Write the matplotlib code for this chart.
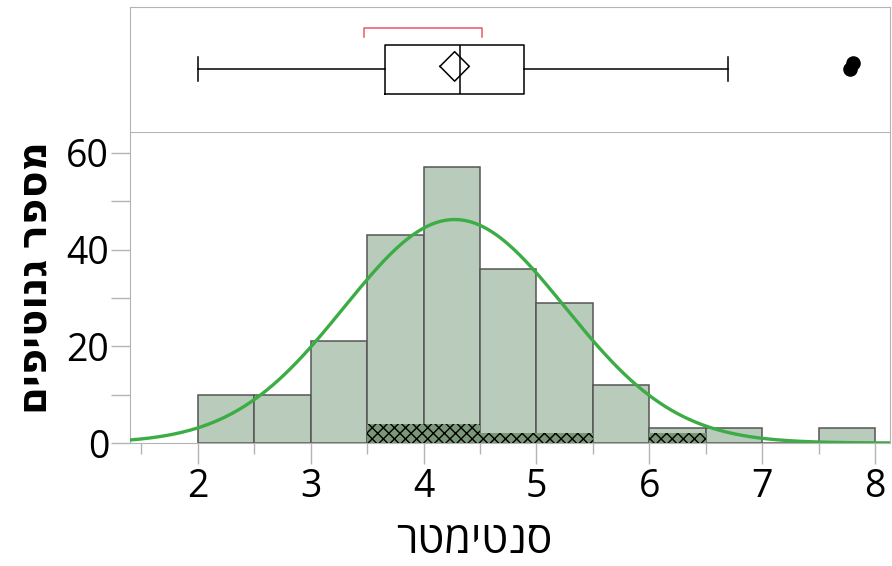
import numpy as np
import matplotlib.pyplot as plt
from matplotlib.ticker import MultipleLocator

plt.rcParams['font.family'] = ['Open Sans', 'DejaVu Sans']
plt.rcParams['hatch.linewidth'] = 1.0

# histogram of heights (cm), bin width 0.5
bin_edges = [2.0, 2.5, 3.0, 3.5, 4.0, 4.5, 5.0, 5.5, 6.0, 6.5, 7.0, 7.5, 8.0]
counts = [10, 10, 21, 43, 57, 36, 29, 12, 3, 3, 0, 3]
# highlighted (selected) rows in each bin
selected = [0, 0, 0, 4, 4, 2, 2, 0, 2, 0, 0, 0]

# fitted normal curve
fit_mean = 4.275
fit_sd = 0.98

# outlier box plot summary
q1, median, q3 = 3.66, 4.32, 4.89
whisker_lo, whisker_hi = 2.0, 6.70
outliers = [7.78, 7.80]
outlier_jitter = [0.50, 0.55]
mean_ci = 0.13
shortest_half = [3.47, 4.515]

x_label = "סנטימטר"
y_label = "מספר גנוטיפים"

bar_color = '#b9cbbb'
sel_color = '#7a9878'
edge_color = '#555555'
curve_color = '#3cac44'
frame_color = '#b4b4b4'

fig = plt.figure(figsize=(8.92, 5.66), dpi=100)
ax = fig.add_axes([0.1457, 0.2173, 0.852, 0.5495])
axb = fig.add_axes([0.1457, 0.7668, 0.852, 0.2217], sharex=ax)

lefts = np.array(bin_edges[:-1])
widths = np.diff(bin_edges)

# histogram bars
ax.bar(lefts, counts, width=widths, align='edge', color=bar_color,
       edgecolor=edge_color, linewidth=1.1, zorder=2)
# selected part: dark fill plus black hatch
ax.bar(lefts, selected, width=widths, align='edge', color=sel_color,
       edgecolor='none', linewidth=0, zorder=3)
ax.bar(lefts, selected, width=widths, align='edge', color='none',
       edgecolor='black', hatch='xxx', linewidth=0, zorder=3)

# normal fit scaled to counts
n_total = sum(counts)
xs = np.linspace(1.3, 8.2, 400)
dens = np.exp(-0.5 * ((xs - fit_mean) / fit_sd) ** 2) / (fit_sd * np.sqrt(2 * np.pi))
ax.plot(xs, dens * n_total * widths[0], color=curve_color, lw=2.4, zorder=4)

ax.set_xlim(1.4, 8.13)
ax.set_ylim(0, 64.3)
ax.xaxis.set_major_locator(MultipleLocator(1))
ax.xaxis.set_minor_locator(MultipleLocator(0.5))
ax.yaxis.set_major_locator(MultipleLocator(20))
ax.yaxis.set_minor_locator(MultipleLocator(10))
ax.tick_params(axis='x', which='major', length=15, width=1, color=frame_color,
               labelsize=27, pad=3)
ax.tick_params(axis='x', which='minor', length=8, width=1, color=frame_color)
ax.tick_params(axis='y', which='both', length=14, width=1, color=frame_color,
               labelsize=27, pad=1)
for s in ax.spines.values():
    s.set_color(frame_color)

# Hebrew labels: matplotlib lays glyphs out left to right, so reverse them
fig.text(0.5314, 0.004, x_label[::-1], fontsize=31, ha='center', va='bottom')
fig.text(0.040, 0.51, y_label[::-1], fontsize=29, fontweight='bold',
         rotation=90, ha='center', va='center')

# box plot panel
axb.set_ylim(0, 1)
axb.tick_params(which='both', left=False, bottom=False,
                labelleft=False, labelbottom=False)
for s in axb.spines.values():
    s.set_color(frame_color)
axb.spines['bottom'].set_visible(False)

stats = [dict(med=median, q1=q1, q3=q3, whislo=whisker_lo, whishi=whisker_hi,
              fliers=[])]
axb.bxp(stats, positions=[0.5], widths=0.39, orientation='horizontal',
        showfliers=False, showcaps=True,
        boxprops=dict(color='black', lw=1.1),
        medianprops=dict(color='black', lw=1.1),
        whiskerprops=dict(color='black', lw=1.1),
        capprops=dict(color='black', lw=1.1))
axb.set_yticks([])

# mean diamond (95% CI)
axb.plot([fit_mean - mean_ci, fit_mean, fit_mean + mean_ci, fit_mean, fit_mean - mean_ci],
         [0.523, 0.64, 0.523, 0.405, 0.523], color='black', lw=1.1)

# shortest half bracket
axb.plot([shortest_half[0], shortest_half[0], shortest_half[1], shortest_half[1]],
         [0.76, 0.83, 0.83, 0.76], color='#e8586a', lw=1.1)

axb.scatter(outliers, outlier_jitter, s=90, color='black', zorder=5)

fig.savefig('out.png', dpi=100)
